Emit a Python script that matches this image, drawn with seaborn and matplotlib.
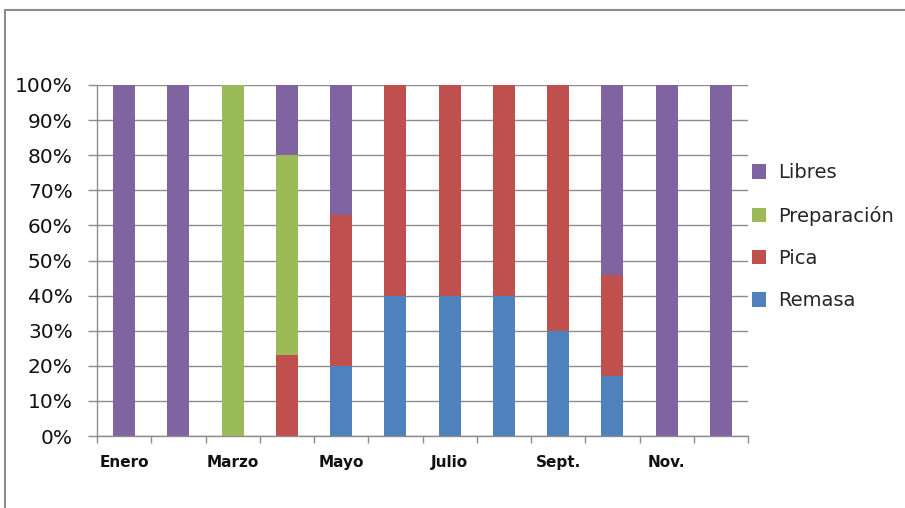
import matplotlib
matplotlib.use("Agg")
import matplotlib.pyplot as plt
from matplotlib.lines import Line2D
from matplotlib.ticker import FixedLocator, PercentFormatter
import seaborn as sns
import pandas as pd

# Monthly share of each activity (percent of the month)
months = ["Enero", "Febrero", "Marzo", "Abril", "Mayo", "Junio",
          "Julio", "Agosto", "Sept.", "Oct.", "Nov.", "Dic."]
month_labels = ["Enero", "", "Marzo", "", "Mayo", "", "Julio", "", "Sept.", "", "Nov.", ""]
remasa = [0, 0, 0, 0, 20, 40, 40, 40, 30, 17, 0, 0]
pica = [0, 0, 0, 23, 43, 60, 60, 60, 70, 29, 0, 0]
preparacion = [0, 0, 100, 57, 0, 0, 0, 0, 0, 0, 0, 0]
libres = [100, 100, 0, 20, 37, 0, 0, 0, 0, 54, 100, 100]

series = [("Remasa", remasa, "#4F81BD"),
          ("Pica", pica, "#C0504D"),
          ("Preparación", preparacion, "#9BBB59"),
          ("Libres", libres, "#8064A2")]

sns.set_theme(style="white")
plt.rcParams["font.family"] = ["DejaVu Sans"]

fig = plt.figure(figsize=(9.05, 5.08), dpi=100)
ax = fig.add_axes([97 / 905, 72 / 508, 651 / 905, 351 / 508])

df = pd.DataFrame({"mes": months})
bottom = [0] * len(months)
for name, vals, color in series:
    df[name] = vals
    sns.barplot(data=df, x="mes", y=name, color=color, bottom=bottom,
                width=0.41, linewidth=0, saturation=1, ax=ax, label=name)
    bottom = [b + v for b, v in zip(bottom, vals)]

ax.set_xlim(-0.5, len(months) - 0.5)
ax.set_ylim(0, 100)
ax.set_xlabel("")
ax.set_ylabel("")

ax.yaxis.set_major_locator(FixedLocator(range(0, 101, 10)))
ax.yaxis.set_major_formatter(PercentFormatter(decimals=0))
ax.yaxis.grid(True, color="#8c8c8c", linewidth=1.0)
ax.set_axisbelow(True)
ax.tick_params(axis="y", which="major", left=True, length=6.5, width=1,
               color="#8c8c8c", labelsize=14.5, pad=11, labelcolor="#111111")

ax.set_xticks(range(len(months)))
ax.set_xticklabels(month_labels, fontsize=11, fontweight="bold")
ax.tick_params(axis="x", which="major", bottom=False, pad=8, labelcolor="#111111")
ax.xaxis.set_minor_locator(FixedLocator([i - 0.5 for i in range(len(months) + 1)]))
ax.tick_params(axis="x", which="minor", bottom=True, length=5, width=1,
               color="#8c8c8c", direction="out")

for side in ("top", "right"):
    ax.spines[side].set_visible(False)
for side in ("left", "bottom"):
    ax.spines[side].set_color("#8c8c8c")
    ax.spines[side].set_linewidth(1)

handles, labels = ax.get_legend_handles_labels()
leg = ax.legend(handles[::-1], labels[::-1], loc="upper left",
                bbox_to_anchor=(1.006, 0.777), frameon=False, fontsize=14,
                handlelength=0.75, handleheight=0.75, handletextpad=0.6,
                labelspacing=1.2, borderaxespad=0.0, borderpad=0.0)

# Chart area frame
fig.add_artist(Line2D([5 / 905, 1.0], [1 - 10 / 508, 1 - 10 / 508],
                      transform=fig.transFigure, color="#8c8c8c", linewidth=1.5))
fig.add_artist(Line2D([5 / 905, 5 / 905], [0.0, 1 - 10 / 508],
                      transform=fig.transFigure, color="#8c8c8c", linewidth=1.5))

fig.savefig("out.png", dpi=100)
